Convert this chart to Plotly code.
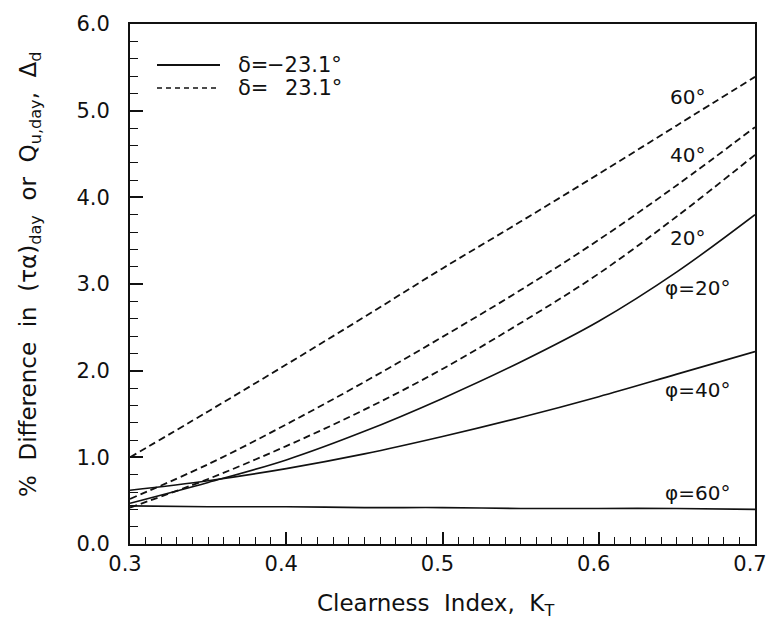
import plotly.graph_objects as go

# Clearness index values where each curve is tabulated
kt = [0.30, 0.35, 0.40, 0.45, 0.50, 0.55, 0.60, 0.65, 0.70]

# delta = -23.1 deg (solid), by latitude phi
neg_phi20 = [0.47, 0.71, 0.97, 1.30, 1.68, 2.10, 2.57, 3.14, 3.80]
neg_phi40 = [0.62, 0.73, 0.87, 1.04, 1.24, 1.46, 1.70, 1.96, 2.22]
neg_phi60 = [0.44, 0.43, 0.43, 0.42, 0.42, 0.41, 0.41, 0.41, 0.40]

# delta = +23.1 deg (dashed), by latitude phi
pos_phi20 = [0.42, 0.75, 1.13, 1.55, 2.02, 2.55, 3.12, 3.78, 4.49]
pos_phi40 = [0.52, 0.92, 1.38, 1.87, 2.39, 2.93, 3.51, 4.14, 4.81]
pos_phi60 = [1.00, 1.53, 2.07, 2.62, 3.18, 3.72, 4.27, 4.83, 5.39]

# curve labels: (text, x, y)
curve_labels = [
    ("60°", 0.657, 5.16),
    ("40°", 0.657, 4.49),
    ("20°", 0.657, 3.53),
    ("φ=20°", 0.6635, 2.95),
    ("φ=40°", 0.6635, 1.78),
    ("φ=60°", 0.663, 0.59),
]

FONT = "DejaVu Sans, Verdana, sans-serif"
INK = "#111111"

fig = go.Figure()

for ys in (neg_phi20, neg_phi40, neg_phi60):
    fig.add_trace(go.Scatter(
        x=kt, y=ys, mode="lines", line=dict(color=INK, width=1.6, shape="spline"),
        showlegend=False, hoverinfo="skip"))

for ys in (pos_phi20, pos_phi40, pos_phi60):
    fig.add_trace(go.Scatter(
        x=kt, y=ys, mode="lines",
        line=dict(color=INK, width=1.8, dash="7px,4px", shape="spline"),
        showlegend=False, hoverinfo="skip"))

for text, x, y in curve_labels:
    fig.add_annotation(x=x, y=y, text=text, showarrow=False,
                       font=dict(family=FONT, size=20, color=INK),
                       xanchor="center", yanchor="middle")

# legend key drawn in pixel-like paper coordinates
W, H = 771, 625
L, R, T, B = 130, 755, 24, 544
pw, ph = R - L, B - T


def px(xp):
    return (xp - L) / pw


def py(yp):
    return (B - yp) / ph


fig.add_shape(type="line", xref="paper", yref="paper",
              x0=px(157), x1=px(220), y0=py(65), y1=py(65),
              line=dict(color=INK, width=1.8))
fig.add_shape(type="line", xref="paper", yref="paper",
              x0=px(157), x1=px(220), y0=py(88), y1=py(88),
              line=dict(color=INK, width=1.6, dash="5px,4px"))
for yy, num in ((65, "−23.1°"), (88, "23.1°")):
    fig.add_annotation(xref="paper", yref="paper", x=px(236), y=py(yy),
                       text="δ=", showarrow=False, xanchor="left", yanchor="middle",
                       font=dict(family=FONT, size=21, color=INK))
    fig.add_annotation(xref="paper", yref="paper", x=px(344), y=py(yy),
                       text=num, showarrow=False, xanchor="right", yanchor="middle",
                       font=dict(family=FONT, size=21, color=INK))

# axis titles
NB = "\u00a0"
SP = NB * 2
ytitle = (f"%{SP}Difference{SP}in{SP}(τα)<sub>day</sub>{SP}or{SP}"
          f"Q<sub>u,day</sub>,{SP}Δ<sub>d</sub>")
fig.add_annotation(xref="paper", yref="paper", x=px(30), y=py(274),
                   text=ytitle, textangle=-90, showarrow=False,
                   xanchor="center", yanchor="middle",
                   font=dict(family=FONT, size=23, color=INK))
fig.add_annotation(xref="paper", yref="paper", x=px(435), y=py(605),
                   text=f"Clearness{SP}Index,{SP}K<sub>T</sub>", showarrow=False,
                   xanchor="center", yanchor="middle",
                   font=dict(family=FONT, size=23, color=INK))

fig.update_layout(
    width=W, height=H,
    margin=dict(l=L, r=W - R, t=T, b=H - B, autoexpand=False),
    paper_bgcolor="white", plot_bgcolor="white",
    font=dict(family=FONT, size=21, color=INK),
    showlegend=False,
)
fig.update_xaxes(
    range=[0.3, 0.7], tickmode="array",
    tickvals=[0.3, 0.4, 0.5, 0.6, 0.7], ticktext=["0.3", "0.4", "0.5", "0.6", "0.7"],
    ticks="inside", ticklen=12, tickwidth=1.5, tickcolor=INK,
    minor=dict(dtick=0.01, tick0=0.3, ticks="inside", ticklen=7, tickwidth=1.3, tickcolor=INK),
    showline=True, linecolor=INK, linewidth=2, mirror=True,
    showgrid=False, zeroline=False, automargin=False,
    ticklabeloverflow="allow", ticklabelshift=-5,
    tickfont=dict(family=FONT, size=21, color=INK),
)
fig.update_yaxes(
    range=[0, 6], tickmode="array",
    tickvals=[0, 1, 2, 3, 4, 5, 6], ticktext=["0.0", "1.0", "2.0", "3.0", "4.0", "5.0", "6.0"],
    ticks="inside", ticklen=13, tickwidth=1.5, tickcolor=INK,
    minor=dict(dtick=0.2, tick0=0, ticks="inside", ticklen=8, tickwidth=1.3, tickcolor=INK),
    showline=True, linecolor=INK, linewidth=2, mirror=True,
    showgrid=False, zeroline=False, ticklabelstandoff=14, automargin=False,
    ticklabeloverflow="allow",
    tickfont=dict(family=FONT, size=21, color=INK),
)

fig.write_html("out.html")
